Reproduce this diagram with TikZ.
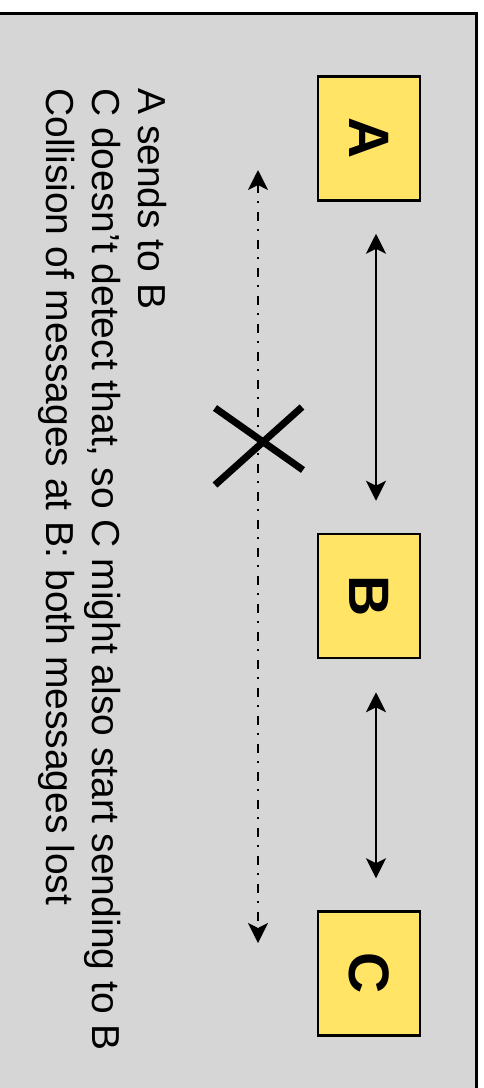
\documentclass[tikz,border=0pt]{standalone}
\usepackage{fontspec}
\setmainfont{Liberation Sans}
\usetikzlibrary{arrows.meta,calc}
\definecolor{bggray}{RGB}{214,214,214}
\definecolor{boxyellow}{RGB}{255,228,102}
\begin{document}
\begin{tikzpicture}[x=1pt,y=-1pt,
  frame/.style={draw=black, line width=3pt, fill=bggray},
  stationbox/.style={draw=black, line width=2.5pt, fill=boxyellow, rotate=-90,
    minimum width=124pt, minimum height=102pt, inner sep=0pt,
    font=\fontsize{57}{57}\selectfont\bfseries},
  link/.style={line width=2pt, {Stealth[length=20pt,width=20pt,inset=5pt]}-{Stealth[length=20pt,width=20pt,inset=5pt]}},
  rangeline/.style={line width=2pt, dash pattern=on 9pt off 8pt on 2pt off 9pt,
    {Stealth[length=20pt,width=20pt,inset=5pt]}-{Stealth[length=20pt,width=20pt,inset=5pt]}},
  cross/.style={line width=7pt},
  note/.style={rotate=-90, anchor=north west, inner sep=0pt, align=left,
    font=\fontsize{39}{46}\selectfont}]
\useasboundingbox (0,0) rectangle (484,1088);
\begin{scope}
  \clip (0,0) rectangle (484,1088);
  \draw[frame] (-10,13.3) rectangle (476.5,1100);
\end{scope}
\node[stationbox] (A) at (369,138.5) {A};
\node[stationbox] (B) at (369,596) {B};
\node[stationbox] (C) at (369,973.5) {C};
\draw[link] ($(A.east)+(7,32)$) -- ($(B.west)+(7,-32)$);
\draw[link] ($(B.east)+(7,33)$) -- ($(C.west)+(7,-32)$);
\coordinate (rtop) at (258,170);
\coordinate (rbot) at (258,943);
\draw[rangeline] (rtop) -- (rbot);
\coordinate (x1) at (215,408);
\coordinate (x2) at (303,470);
\coordinate (x3) at (302,407);
\coordinate (x4) at (215,485);
\draw[cross] (x1) -- (x2);
\draw[cross] (x3) -- (x4);
\node[note] (msg) at (167,88) {A sends to B\\C doesn’t detect that, so C might also start sending to B\\Collision of messages at B: both messages lost};
\end{tikzpicture}
\end{document}
